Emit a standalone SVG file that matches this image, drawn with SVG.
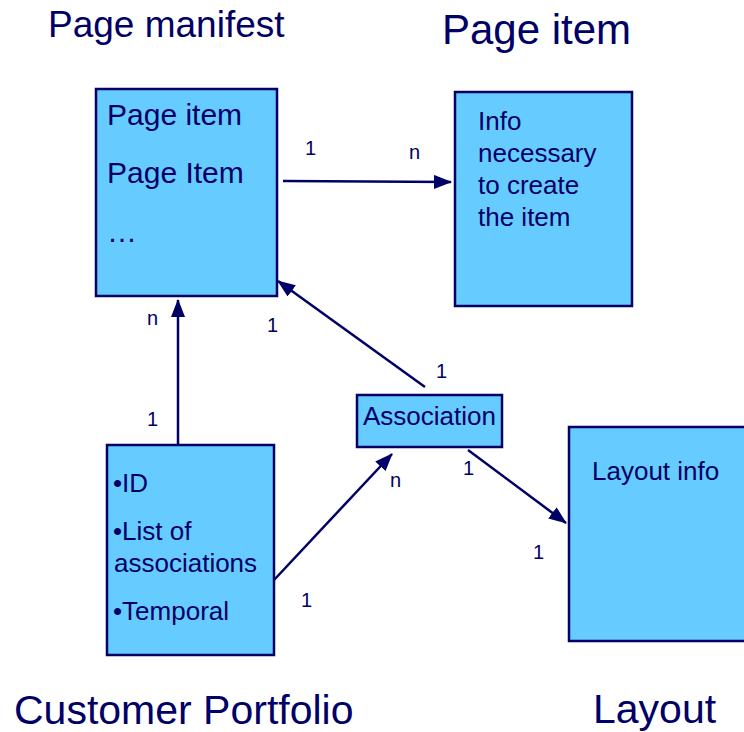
<svg xmlns="http://www.w3.org/2000/svg" width="744" height="732" viewBox="0 0 744 732">
  <style>
    .box { fill: #66CCFF; stroke: #000066; stroke-width: 2.5; }
    text { font-family: "Liberation Sans", Arial, sans-serif; fill: #000066; }
    .title { font-size: 41px; }
    .big { font-size: 30px; }
    .mid { font-size: 26px; }
    .lbl { font-size: 20px; }
    .conn { stroke: #000066; stroke-width: 2.5; fill: none; marker-end: url(#arrow); }
  </style>
  <defs>
    <marker id="arrow" markerUnits="userSpaceOnUse" markerWidth="18" markerHeight="14" refX="17" refY="7" orient="auto">
      <path d="M0,0 L18,7 L0,14 Z" fill="#000066"/>
    </marker>
  </defs>
  <rect width="744" height="732" fill="#FFFFFF"/>

  <!-- section titles -->
  <text class="title" x="48" y="37" style="font-size:37px">Page manifest</text>
  <text class="title" x="442" y="44" style="font-size:42px">Page item</text>
  <text class="title" x="14" y="724" style="font-size:41px">Customer Portfolio</text>
  <text class="title" x="593" y="723">Layout</text>

  <g id="page-manifest">
    <rect class="box" x="96" y="89" width="181" height="207"/>
    <text class="big" x="107" y="125">Page item</text>
    <text class="big" x="107" y="183">Page Item</text>
    <text class="big" x="107" y="242">…</text>
  </g>

  <g id="page-item">
    <rect class="box" x="455" y="92" width="177" height="214"/>
    <text class="mid" x="478" y="130">Info</text>
    <text class="mid" x="478" y="162">necessary</text>
    <text class="mid" x="478" y="194">to create</text>
    <text class="mid" x="478" y="226">the item</text>
  </g>

  <g id="association">
    <rect class="box" x="357" y="395" width="145" height="52"/>
    <text class="mid" x="363" y="425">Association</text>
  </g>

  <g id="customer-portfolio">
    <rect class="box" x="107" y="445" width="167" height="210"/>
    <text class="mid" x="113" y="492">•ID</text>
    <text class="mid" x="113" y="540">•List of</text>
    <text class="mid" x="114" y="572">associations</text>
    <text class="mid" x="113" y="620">•Temporal</text>
  </g>

  <g id="layout">
    <rect class="box" x="569" y="427" width="190" height="214"/>
    <text class="mid" x="592" y="480">Layout info</text>
  </g>

  <g id="connectors">
    <line class="conn" x1="283" y1="181" x2="451" y2="182"/>
    <line class="conn" x1="178" y1="445" x2="178" y2="300"/>
    <line class="conn" x1="425" y1="387" x2="278" y2="281"/>
    <line class="conn" x1="274" y1="580" x2="392" y2="454"/>
    <line class="conn" x1="468" y1="450" x2="566" y2="523"/>
  </g>

  <g id="multiplicities">
    <text class="lbl" x="305" y="155">1</text>
    <text class="lbl" x="409" y="159">n</text>
    <text class="lbl" x="147" y="325">n</text>
    <text class="lbl" x="147" y="426">1</text>
    <text class="lbl" x="267" y="332">1</text>
    <text class="lbl" x="436" y="378">1</text>
    <text class="lbl" x="390" y="487">n</text>
    <text class="lbl" x="463" y="475">1</text>
    <text class="lbl" x="533" y="559">1</text>
    <text class="lbl" x="301" y="607">1</text>
  </g>
</svg>
